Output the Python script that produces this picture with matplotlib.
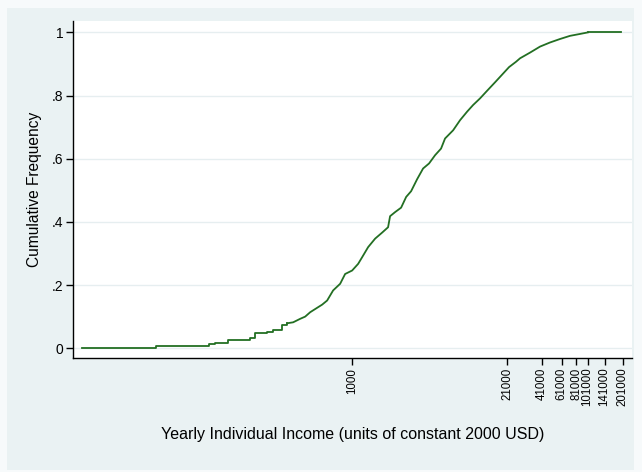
import matplotlib
matplotlib.use("Agg")
import matplotlib.pyplot as plt
from matplotlib.patches import Rectangle

# Data (income in constant 2000 USD, cumulative frequency)
income = [5.0, 21.5, 60.7, 68.2, 88.1, 135.5, 149.4, 189.1, 212.7, 253.6, 279.8,
          314.6, 360.8, 398.1, 439.5, 503.7, 555.6, 612.6, 689, 790.6, 871.6, 1000,
          1124.6, 1216.2, 1368, 1569.8, 1799.9, 2023, 2104, 2323, 2612, 2884, 3177,
          3574, 4019, 4519, 5082, 5715, 6182, 7244, 8299, 9528, 10715, 12278, 14086,
          16482, 18901, 21673, 24865, 26915, 32734, 39811, 48417, 58884, 71614,
          87096, 102051, 195000]
cumfreq = [0.0, 0.006, 0.013, 0.018, 0.026, 0.032, 0.048, 0.052, 0.058, 0.074, 0.079,
           0.082, 0.093, 0.100, 0.114, 0.128, 0.138, 0.151, 0.183, 0.204, 0.235, 0.246,
           0.267, 0.288, 0.320, 0.347, 0.366, 0.383, 0.418, 0.431, 0.445, 0.479, 0.497,
           0.535, 0.569, 0.585, 0.611, 0.632, 0.664, 0.690, 0.722, 0.749, 0.770, 0.791,
           0.815, 0.842, 0.866, 0.890, 0.907, 0.918, 0.936, 0.955, 0.968, 0.979, 0.989,
           0.995, 1.0, 1.0]
# the sparse lower tail is drawn as visible steps, the dense body as a connected line
n_tail = 10

xticks = [1000, 21000, 41000, 61000, 81000, 101000, 141000, 201000]
xtick_labels = ["1000", "21000", "41000", "61000", "81000", "101000", "141000", "201000"]
yticks = [0, 0.2, 0.4, 0.6, 0.8, 1.0]
ytick_labels = ["0", ".2", ".4", ".6", ".8", "1"]

W, H = 642, 472
plt.rcParams['font.family'] = ['Liberation Sans', 'DejaVu Sans']
fig = plt.figure(figsize=(W / 100, H / 100), dpi=100)
fig.patch.set_facecolor('#F7FAFB')
fig.patches.append(Rectangle((7 / W, 2 / H), (634 - 7) / W, (464 - 2) / H,
                             transform=fig.transFigure, facecolor='#EAF2F3',
                             edgecolor='none', zorder=-10))

ax = fig.add_axes([73 / W, 1 - 358 / H, (632 - 73) / W, (358 - 21) / H])
ax.set_zorder(1)
ax.set_facecolor('white')
line_color = '#236F23'
ax.step(income[:n_tail + 1], cumfreq[:n_tail + 1], where='post',
        color=line_color, linewidth=1.3, zorder=3)
ax.plot(income[n_tail:-1], cumfreq[n_tail:-1], color=line_color, linewidth=1.3, zorder=3)
ax.step(income[-2:], cumfreq[-2:], where='post', color=line_color, linewidth=1.3, zorder=3)

ax.set_xscale('log')
ax.set_xlim(4.2, 241500)
ax.set_ylim(-0.031, 1.036)
ax.minorticks_off()
ax.set_xticks(xticks)
ax.set_xticklabels(xtick_labels, rotation=90, fontsize=8.3)
ax.set_yticks(yticks)
ax.set_yticklabels(ytick_labels, fontsize=10)
ax.grid(axis='y', color='#E6EEF0', linewidth=1.0, zorder=1)
ax.grid(axis='x', visible=False)
ax.tick_params(axis='both', direction='out', length=5, width=1, color='black', pad=2)

for s in ['top', 'right']:
    ax.spines[s].set_visible(False)
for s in ['left', 'bottom']:
    ax.spines[s].set_linewidth(1.0)
    ax.spines[s].set_color('black')

ax.set_ylabel("Cumulative Frequency", fontsize=11.2, labelpad=7)
ax.set_xlabel("Yearly Individual Income (units of constant 2000 USD)", fontsize=11.5,
              labelpad=15)

fig.savefig("out.png", dpi=100, facecolor=fig.get_facecolor())
